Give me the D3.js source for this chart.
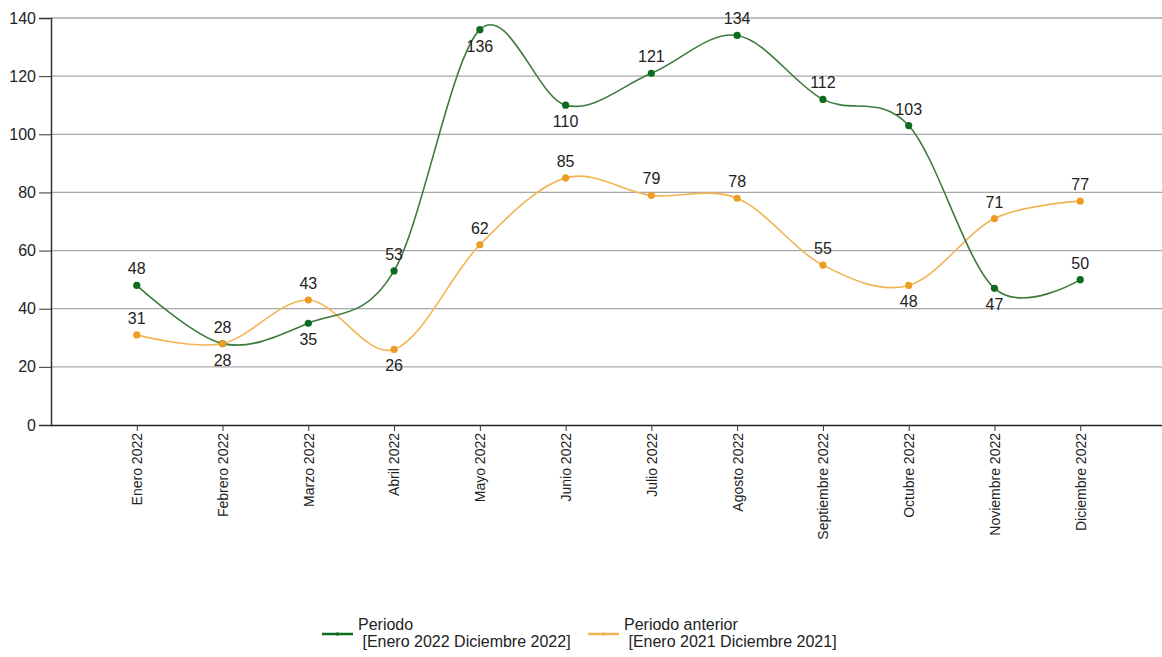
<!DOCTYPE html>
<html>
<head>
<meta charset="utf-8">
<script src="https://cdn.jsdelivr.net/npm/d3@7"></script>
<style>
  body { margin: 0; background: #fff; }
  text { font-family: "Liberation Sans", Arial, sans-serif; fill: #222; }
</style>
</head>
<body>
<div id="chart"></div>
<script>
// datos
let meses = ["Enero 2022", "Febrero 2022", "Marzo 2022", "Abril 2022", "Mayo 2022", "Junio 2022",
             "Julio 2022", "Agosto 2022", "Septiembre 2022", "Octubre 2022", "Noviembre 2022", "Diciembre 2022"];
let periodo = [48, 28, 35, 53, 136, 110, 121, 134, 112, 103, 47, 50];
let periodoAnterior = [31, 28, 43, 26, 62, 85, 79, 78, 55, 48, 71, 77];
let ticksY = [0, 20, 40, 60, 80, 100, 120, 140];
// a = etiqueta arriba, b = abajo
let posPeriodo = ["a", "b", "b", "a", "b", "b", "a", "a", "a", "a", "b", "a"];
let posAnterior = ["a", "a", "a", "b", "a", "a", "a", "a", "a", "b", "a", "a"];

let width = 1162, height = 657;
let margenIzq = 51, margenDer = 1166, margenSup = 18, margenInf = 425;

const svg = d3.select("#chart").append("svg")
    .attr("width", width)
    .attr("height", height);

let x = d3.scalePoint().domain(meses).range([margenIzq, margenDer]).padding(1);
let y = d3.scaleLinear().domain([0, 140]).range([margenInf, margenSup]);

// grid
svg.append("g")
    .selectAll("line")
    .data(ticksY.filter(d => d > 0))
    .enter().append("line")
    .attr("x1", margenIzq).attr("x2", width)
    .attr("y1", d => y(d)).attr("y2", d => y(d))
    .attr("stroke", "#a8a8a8").attr("stroke-width", 1.3);

// eje y
let ejeY = svg.append("g")
    .attr("transform", "translate(" + margenIzq + ",0)")
    .call(d3.axisLeft(y).tickValues(ticksY).tickSize(12).tickPadding(3));
ejeY.select(".domain").attr("stroke", "#333").attr("stroke-width", 1.5);
ejeY.selectAll(".tick line").attr("stroke", "#333");
ejeY.selectAll("text").style("font-size", "16px").attr("fill", "#222");

// eje x
let ejeX = svg.append("g")
    .attr("transform", "translate(0," + margenInf + ")")
    .call(d3.axisBottom(x).tickSize(6).tickSizeOuter(0));
ejeX.select(".domain").attr("d", "M" + margenIzq + ",0.5H" + width).attr("stroke", "#222").attr("stroke-width", 1.5);
ejeX.selectAll(".tick line").attr("stroke", "#333");
ejeX.selectAll("text")
    .style("font-size", "14px")
    .attr("fill", "#222")
    .attr("transform", "rotate(-90)")
    .attr("text-anchor", "end")
    .attr("x", -8)
    .attr("y", 0)
    .attr("dy", "0.35em");

let series = [
    { valores: periodo, pos: posPeriodo, linea: "#3d7a3d", punto: "#0d6b1f" },
    { valores: periodoAnterior, pos: posAnterior, linea: "#f2b453", punto: "#ee9d24" }
];

let line = d3.line()
    .x((d, i) => x(meses[i]))
    .y(d => y(d))
    .curve(d3.curveCardinal.tension(0));

// dibujar naranja primero, luego verde
series.slice().reverse().forEach(function(s) {
    svg.append("path")
        .datum(s.valores)
        .attr("d", line)
        .attr("fill", "none")
        .attr("stroke", s.linea)
        .attr("stroke-width", 1.6);
});

series.forEach(function(s) {
    let g = svg.append("g");
    g.selectAll("circle")
        .data(s.valores)
        .enter().append("circle")
        .attr("cx", (d, i) => x(meses[i]))
        .attr("cy", d => y(d))
        .attr("r", 3.6)
        .attr("fill", s.punto);
    g.selectAll("text")
        .data(s.valores)
        .enter().append("text")
        .attr("x", (d, i) => x(meses[i]))
        .attr("y", (d, i) => s.pos[i] == "a" ? y(d) - 11 : y(d) + 22)
        .attr("text-anchor", "middle")
        .style("font-size", "16px")
        .text(d => d);
});

// leyenda
let leyenda = [
    { x: 322, color: "#0d6b1f", l1: "Periodo", l2: " [Enero 2022 Diciembre 2022]" },
    { x: 588, color: "#f2b453", l1: "Periodo anterior", l2: " [Enero 2021 Diciembre 2021]" }
];
leyenda.forEach(function(l) {
    let g = svg.append("g");
    g.append("line")
        .attr("x1", l.x).attr("x2", l.x + 31)
        .attr("y1", 634).attr("y2", 634)
        .attr("stroke", l.color).attr("stroke-width", 2.5);
    g.append("circle")
        .attr("cx", l.x + 15.5).attr("cy", 634).attr("r", 1.8)
        .attr("fill", l.color);
    let t = g.append("text")
        .style("font-size", "16px")
        .attr("xml:space", "preserve");
    t.append("tspan").attr("x", l.x + 36).attr("y", 630).text(l.l1);
    t.append("tspan").attr("x", l.x + 36).attr("y", 647).text(l.l2);
});
</script>
</body>
</html>
